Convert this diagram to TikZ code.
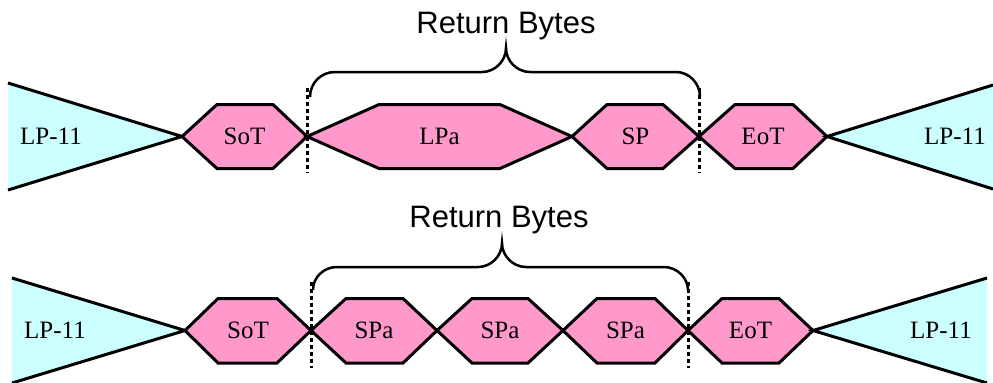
\documentclass[tikz,border=0pt]{standalone}
\usepackage{fontspec}
\setmainfont{Liberation Serif}
\setsansfont{Liberation Sans}
\definecolor{pktpink}{HTML}{FF99CC}
\definecolor{lpcyan}{HTML}{CCFFFF}

\begin{document}
\begin{tikzpicture} [
        x=0.5pt, y=-0.5pt,
        pkt/.style={
            draw=black,
            fill=pktpink,
            line width=1.5pt},
        edge/.style={line width=1.5pt},
        bound/.style={
            line width=1.5pt,
            dash pattern=on 2pt off 1.5pt},
        brc/.style={line width=1.25pt},
        lbl/.style={font=\fontsize{12.5}{14}\selectfont},
        ttl/.style={font=\sffamily\fontsize{15.5}{18}\selectfont}]

    \useasboundingbox (0,0) rectangle (993,382);

    %draw the upper transfer
    \fill[lpcyan] (8,83) -- (182,136.5) -- (8,190) -- cycle;
    \draw[edge] (8,83) -- (182,136.5) -- (8,190);
    \node[lbl] (lp_a) at (51,136.5) {LP-11};
    \foreach \l/\tl/\tr/\r/\txt/\nm in {182/217/273/307/SoT/sot_a,
            307/379/500/572/LPa/lpa_a, 572/607/663/699/SP/sp_a,
            699/735/793/827/EoT/eot_a} {
        \draw[pkt] (\l,136.5) -- (\tl,104.5) -- (\tr,104.5) -- (\r,136.5)
            -- (\tr,168.5) -- (\tl,168.5) -- cycle;
        \node[lbl] (\nm) at ({(\l+\r)/2},136.5) {\txt};
    }
    \fill[lpcyan] (993,85) -- (827,136.5) -- (993,189) -- cycle;
    \draw[edge] (993,85) -- (827,136.5) -- (993,189);
    \node[lbl] (lp_b) at (955,136.5) {LP-11};

    % bounds and brace
    \coordinate (ba_top) at (307,88);
    \coordinate (ba_bot) at (307,173);
    \coordinate (ea_top) at (699,88);
    \coordinate (ea_bot) at (699,173);
    \draw[bound] (ba_top) -- (ba_bot);
    \draw[bound] (ea_top) -- (ea_bot);
    \draw[brc] (310,97) .. controls (310,83) and (321,72) .. (335,72) -- (482,72)
        .. controls (495,72) and (506,61) .. (506,48)
        .. controls (506,61) and (517,72) .. (530,72)
        -- (676,72) .. controls (689,72) and (700,83) .. (700,97);
    \node[ttl,anchor=base] (ret_a) at (506,33) {Return Bytes};

    %draw the lower transfer
    \fill[lpcyan] (12,278) -- (185,330.5) -- (12,383) -- cycle;
    \draw[edge] (12,278) -- (185,330.5) -- (12,383);
    \node[lbl] (lp_c) at (55,330.5) {LP-11};
    \foreach \l/\tl/\tr/\r/\txt/\nm in {185/218/277/311/SoT/sot_b,
            311/346/403/437/SPa/spa_b1, 437/472/528/563/SPa/spa_b2,
            563/597/655/688/SPa/spa_b3, 688/722/779/813/EoT/eot_b} {
        \draw[pkt] (\l,330.5) -- (\tl,298.5) -- (\tr,298.5) -- (\r,330.5)
            -- (\tr,363) -- (\tl,363) -- cycle;
        \node[lbl] (\nm) at ({(\l+\r)/2},330.5) {\txt};
    }
    \fill[lpcyan] (987,278) -- (813,330.5) -- (987,383) -- cycle;
    \draw[edge] (987,278) -- (813,330.5) -- (987,383);
    \node[lbl] (lp_d) at (941,330.5) {LP-11};

    % bounds and brace
    \coordinate (bb_top) at (311,282);
    \coordinate (bb_bot) at (311,368);
    \coordinate (eb_top) at (688,282);
    \coordinate (eb_bot) at (688,368);
    \draw[bound] (bb_top) -- (bb_bot);
    \draw[bound] (eb_top) -- (eb_bot);
    \draw[brc] (313,290) .. controls (313,277) and (324,267) .. (337,267) -- (478,267)
        .. controls (491,267) and (502,256) .. (502,243)
        .. controls (502,256) and (513,267) .. (526,267)
        -- (664,267) .. controls (677,267) and (688,278) .. (688,290);
    \node[ttl,anchor=base] (ret_b) at (499,227) {Return Bytes};

\end{tikzpicture}
\end{document}
